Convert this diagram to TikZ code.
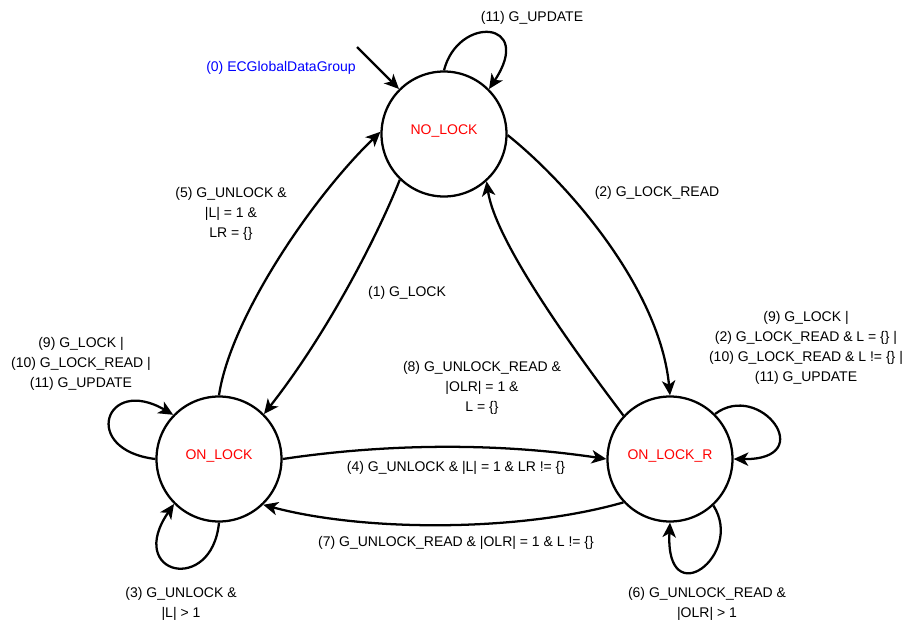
\documentclass[tikz,border=0pt]{standalone}
\usepackage{fontspec}
\setmainfont{Liberation Sans}
\usetikzlibrary{arrows.meta}
\definecolor{lblblue}{RGB}{0,0,255}
\definecolor{lblred}{RGB}{255,0,0}
\tikzset{
  statebox/.style={draw, circle, line width=1.7pt, minimum size=93.75pt, inner sep=0pt},
  edge/.style={line width=1.7pt, -{Stealth[length=11pt,width=10pt,inset=3pt]}},
  lbl/.style={align=center, inner sep=0pt, font=\fontsize{10.5}{15}\selectfont},
  statename/.style={text=lblred, font=\fontsize{10.5}{15}\selectfont, yshift=2.5pt}
}
\begin{document}
\begin{tikzpicture}[x=0.75pt, y=-0.75pt]
\useasboundingbox (0,0) rectangle (907,627);

\node[statebox, label={[statename]center:NO\_LOCK}] (nl) at (444,134) {};
\node[statebox, label={[statename]center:ON\_LOCK}] (ol) at (219,459) {};
\node[statebox, label={[statename]center:ON\_LOCK\_R}] (olr) at (670,459) {};

\coordinate (init) at (357,47);
\draw[edge] (init) -- (nl.135);

% self loops
\draw[edge] (nl.90) .. controls (458,15) and (535,20) .. (nl.45);
\draw[edge] (ol.180) .. controls (80,450) and (105,375) .. (ol.136);
\draw[edge] (ol.270) .. controls (212,595) and (125,575) .. (ol.225);
\draw[edge] (olr.45) .. controls (760,380) and (820,460) .. (olr.0);
\draw[edge] (olr.313) .. controls (745,555) and (665,615) .. (olr.270);

% transitions
\draw[edge] (nl.359) .. controls (570,185) and (660,290) .. (olr.90);
\draw[edge] (olr.137) .. controls (570,345) and (495,240) .. (nl.312);
\draw[edge] (nl.226) .. controls (380,230) and (330,330) .. (ol.45);
\draw[edge] (ol.90) .. controls (230,320) and (310,200) .. (nl.178);
\draw[edge] (ol.0) .. controls (390,443) and (500,443) .. (olr.180);
\draw[edge] (olr.223) .. controls (520,532) and (365,532) .. (ol.314);

% labels
\node[lbl, text=lblblue] (l0) at (281,68) {(0) ECGlobalDataGroup};
\node[lbl] (l11) at (532,18) {(11) G\_UPDATE};
\node[lbl] (l2) at (657,193) {(2) G\_LOCK\_READ};
\node[lbl] (l1) at (407,293) {(1) G\_LOCK};
\node[lbl] (l5) at (231,214) {(5) G\_UNLOCK \&\\ |L| = 1 \&\\ LR = \{\}};
\node[lbl] (l9a) at (81,364) {(9) G\_LOCK |\\ (10) G\_LOCK\_READ |\\ (11) G\_UPDATE};
\node[lbl] (l3) at (181,604) {(3) G\_UNLOCK \&\\ |L| > 1};
\node[lbl] (l9b) at (806,348) {(9) G\_LOCK |\\ (2) G\_LOCK\_READ \& L = \{\} |\\ (10) G\_LOCK\_READ \& L != \{\} |\\ (11) G\_UPDATE};
\node[lbl] (l6) at (707,604) {(6) G\_UNLOCK\_READ \&\\ |OLR| > 1};
\node[lbl] (l8) at (482,388) {(8) G\_UNLOCK\_READ \&\\ |OLR| = 1 \&\\ L = \{\}};
\node[lbl] (l4) at (456,468) {(4) G\_UNLOCK \& |L| = 1 \& LR != \{\}};
\node[lbl] (l7) at (456,543) {(7) G\_UNLOCK\_READ \& |OLR| = 1 \& L != \{\}};
\end{tikzpicture}
\end{document}
